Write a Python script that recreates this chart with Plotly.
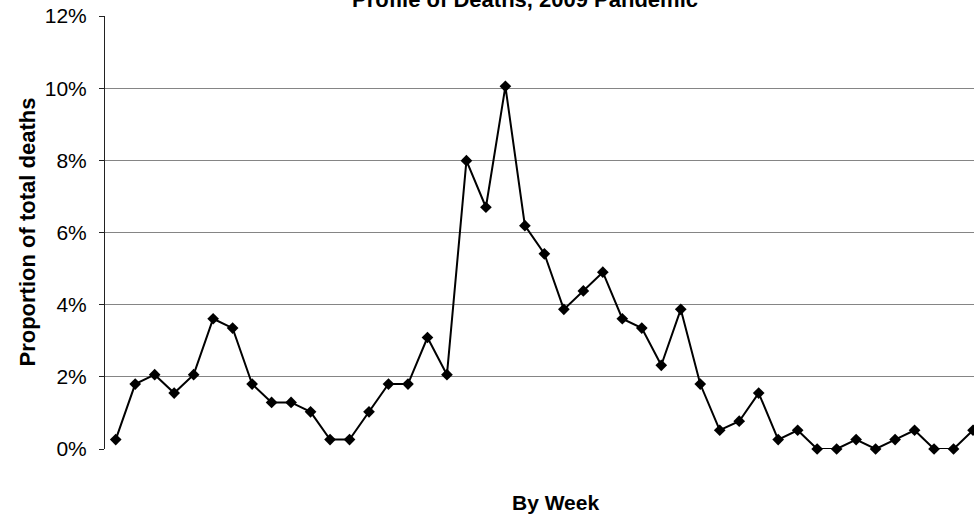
import plotly.graph_objects as go

# Week index (category axis has no tick labels)
weeks = list(range(1, 46))
# Proportion of total deaths per week (%)
proportion_pct = [
    0.26, 1.80, 2.06, 1.55, 2.06, 3.61, 3.35, 1.80, 1.29, 1.29,
    1.03, 0.26, 0.26, 1.03, 1.80, 1.80, 3.09, 2.06, 7.99, 6.70,
    10.05, 6.19, 5.41, 3.87, 4.38, 4.90, 3.61, 3.35, 2.32, 3.87,
    1.80, 0.52, 0.77, 1.55, 0.26, 0.52, 0.00, 0.00, 0.26, 0.00,
    0.26, 0.52, 0.00, 0.00, 0.52,
]
y_ticks = [0, 2, 4, 6, 8, 10, 12]
y_tick_labels = ["0%", "2%", "4%", "6%", "8%", "10%", "12%"]

title_text = "Profile of Deaths, 2009 Pandemic"
x_title = "By Week"
y_title = "Proportion of total deaths"

font_family = "Arial, Liberation Sans, sans-serif"

FIG_W, FIG_H = 974, 515
M_L, M_R, M_T, M_B = 105, 0, 16, 66
plot_w = FIG_W - M_L - M_R

fig = go.Figure()
fig.add_trace(go.Scatter(
    x=weeks,
    y=proportion_pct,
    mode="lines+markers",
    line=dict(color="#000000", width=2),
    marker=dict(symbol="diamond", size=9, color="#000000"),
    cliponaxis=False,
    showlegend=False,
))

fig.update_layout(
    width=FIG_W,
    height=FIG_H,
    margin=dict(l=M_L, r=M_R, t=M_T, b=M_B),
    paper_bgcolor="white",
    plot_bgcolor="white",
    font=dict(family=font_family, color="#000000"),
    xaxis=dict(
        range=[0.45, 45.05],
        showticklabels=False,
        ticks="",
        showgrid=False,
        zeroline=False,
        showline=False,
    ),
    yaxis=dict(
        range=[0, 12],
        tickvals=y_ticks,
        ticktext=y_tick_labels,
        ticks="outside",
        ticklen=5,
        tickcolor="#222222",
        tickwidth=1,
        showline=True,
        linecolor="#222222",
        linewidth=1,
        showgrid=True,
        gridcolor="#858585",
        gridwidth=1,
        zeroline=False,
        tickfont=dict(size=21, family=font_family, color="#000000"),
        ticklabelstandoff=8,
    ),
    annotations=[
        dict(text="<b>" + title_text + "</b>", x=(525 - M_L) / plot_w, xref="paper",
             y=1, yref="paper", xanchor="center", yanchor="bottom", yshift=2,
             showarrow=False, font=dict(size=22, family=font_family)),
        dict(text="<b>" + x_title + "</b>", x=(555 - M_L) / plot_w, xref="paper",
             y=0, yref="paper", xanchor="center", yanchor="middle", yshift=-53,
             showarrow=False, font=dict(size=21, family=font_family)),
        dict(text="<b>" + y_title + "</b>", x=0, xref="paper", y=0.5, yref="paper",
             xanchor="center", yanchor="middle", xshift=-78, textangle=-90,
             showarrow=False, font=dict(size=22, family=font_family)),
    ],
)

# Remove the default page margin so the figure fills the window from its top-left corner
fig.write_html(
    "out.html",
    config={"displayModeBar": False},
    post_script="document.body.style.margin='0';",
)
